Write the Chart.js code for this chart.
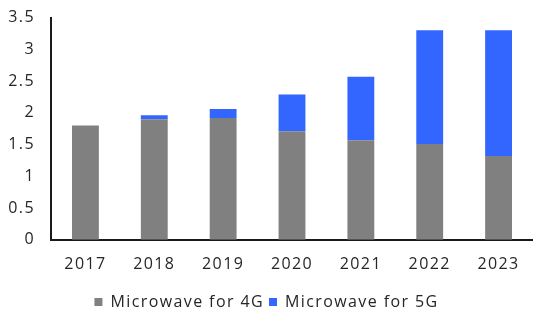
<!DOCTYPE html>
<html>
<head>
<meta charset="utf-8">
<script src="https://cdn.jsdelivr.net/npm/chart.js@4"></script>
<style>
    html, body { margin: 0; padding: 0; background: #fff; }
    #wrap { width: 533px; height: 320px; }
</style>
</head>
<body>
<div id="wrap"><canvas id="chart"></canvas></div>
<script>
const YEARS = ["2017", "2018", "2019", "2020", "2021", "2022", "2023"];
const MW_4G = [1.8, 1.9, 1.92, 1.71, 1.57, 1.51, 1.32];
const MW_5G = [0, 0.06, 0.14, 0.58, 1.0, 1.79, 1.98];

const COLORS = {
    mw4g: "#808080",
    mw5g: "#3366FF",
    axis: "#1a1a1a",
    text: "#262626",
};

const FONT = { family: "'Open Sans', sans-serif", size: 16 };

// canvas resets its state on resize, so re-apply the tracking before layout and draw
const tracking = {
    id: "tracking",
    beforeLayout: (chart) => { chart.ctx.letterSpacing = "1.4px"; },
    beforeDraw: (chart) => { chart.ctx.letterSpacing = "1.4px"; },
};

new Chart(document.getElementById("chart"), {
    type: "bar",
    data: {
        labels: YEARS,
        datasets: [
            {
                label: "Microwave for 4G",
                data: MW_4G,
                backgroundColor: COLORS.mw4g,
                barPercentage: 0.39,
                categoryPercentage: 1,
            },
            {
                label: "Microwave for 5G",
                data: MW_5G,
                backgroundColor: COLORS.mw5g,
                barPercentage: 0.39,
                categoryPercentage: 1,
            },
        ],
    },
    plugins: [tracking],
    options: {
        responsive: true,
        maintainAspectRatio: false,
        animation: false,
        layout: { padding: { top: 1, right: 0, bottom: 0, left: 0 } },
        plugins: {
            legend: {
                position: "bottom",
                labels: {
                    color: COLORS.text,
                    font: FONT,
                    boxWidth: 8,
                    boxHeight: 8,
                    padding: 5,
                },
            },
            tooltip: { enabled: false },
        },
        scales: {
            x: {
                stacked: true,
                grid: { display: false },
                border: { color: COLORS.axis, width: 2 },
                ticks: { color: COLORS.text, font: FONT, padding: 7 },
                afterFit: (scale) => { scale.height += 8; },
            },
            y: {
                stacked: true,
                min: 0,
                max: 3.5,
                grid: { display: false },
                border: { color: COLORS.axis, width: 2 },
                ticks: {
                    stepSize: 0.5,
                    color: COLORS.text,
                    font: FONT,
                    padding: 8,
                    callback: (v) => String(v),
                },
                afterFit: (scale) => { scale.width = 51; },
            },
        },
    },
});
</script>
</body>
</html>
